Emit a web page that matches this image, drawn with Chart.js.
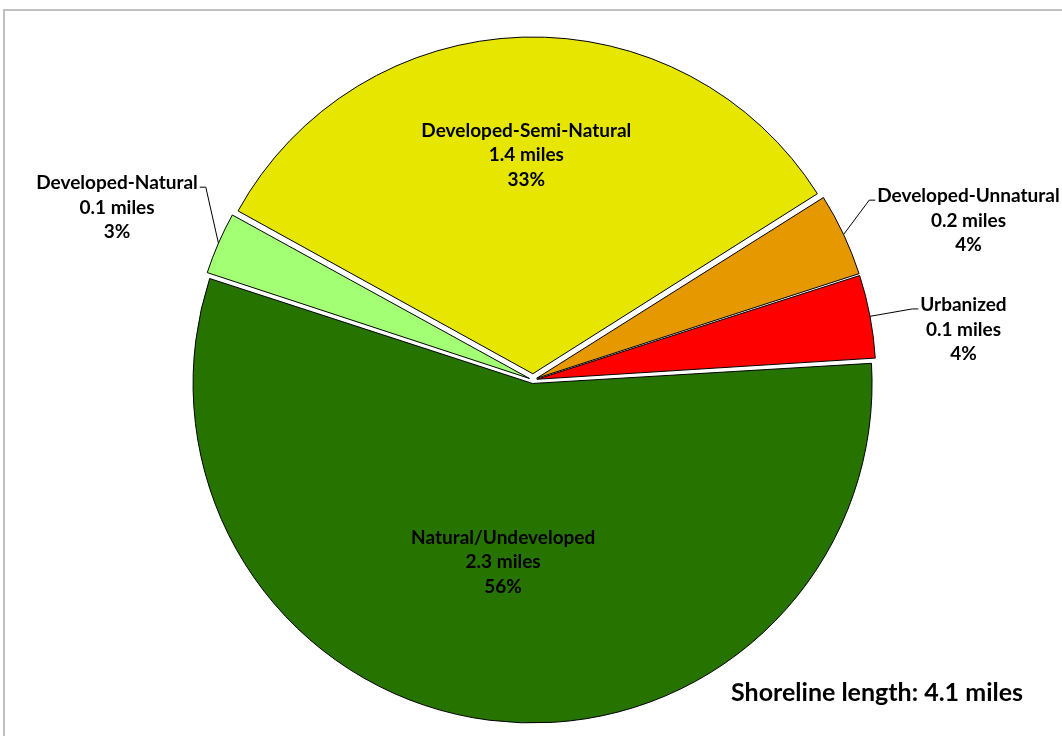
<!DOCTYPE html>
<html>
<head>
<meta charset="utf-8">
<script src="https://cdn.jsdelivr.net/npm/chart.js@4"></script>
<style>
    html, body { margin: 0; padding: 0; background: #ffffff; }
    #wrap { width: 1062px; height: 736px; position: relative; }
</style>
</head>
<body>
<div id="wrap"><canvas id="shorePie" width="1062" height="736"></canvas></div>
<script>
const categories = ["Natural/Undeveloped", "Developed-Natural", "Developed-Semi-Natural", "Developed-Unnatural", "Urbanized"];
const percents = [56, 3, 33, 4, 4];
const miles = [2.3, 0.1, 1.4, 0.2, 0.1];
const sliceColors = ["#267300", "#A3FF73", "#E6E600", "#E69800", "#FF0000"];
const totalMiles = 4.1;

const FONT = "Lato, 'Open Sans', sans-serif";
const EXPLODE = 7; // px each slice is pulled out

// where each label sits, in units of the pie radius along the slice's middle angle
const LABEL_PLACE = [
    { inside: true, r: 0.55, da: 2 },
    { inside: false, r: 1.34, da: -1 },
    { inside: true, r: 0.67, da: 0 },
    { inside: false, r: 1.38, da: 5 },
    { inside: false, r: 1.29, da: 4 },
];

// chart.js moves an arc by offset/4 * (2 - sin(circumference)), so undo that to get an even gap
function arcFactor(pct) {
    const c = (pct / 100) * Math.PI * 2;
    return 2 - Math.sin(Math.min(Math.PI, c));
}
const totalPct = percents.reduce((s, v) => s + v, 0);
const sliceOffsets = percents.map((p) => (4 * EXPLODE) / arcFactor((p / totalPct) * 100));

const framePlugin = {
    id: "frame",
    beforeDraw(chart) {
        const ctx = chart.ctx;
        ctx.save();
        ctx.strokeStyle = "#c0c0c0";
        ctx.lineWidth = 2;
        ctx.strokeRect(4, 10, chart.width + 10, chart.height + 10);
        ctx.restore();
    },
};

const labelPlugin = {
    id: "sliceLabels",
    afterDatasetsDraw(chart) {
        const ctx = chart.ctx;
        const arcs = chart.getDatasetMeta(0).data;
        const lineH = 24.5;
        ctx.save();
        ctx.fillStyle = "#000";
        ctx.font = "bold 19px " + FONT;
        ctx.textAlign = "center";
        ctx.textBaseline = "middle";
        arcs.forEach((arc, i) => {
            const { x, y, startAngle, endAngle, outerRadius } = arc.getProps(["x", "y", "startAngle", "endAngle", "outerRadius"], true);
            const place = LABEL_PLACE[i];
            const mid = (startAngle + endAngle) / 2;
            const cx = x + Math.cos(mid) * EXPLODE;
            const cy = y + Math.sin(mid) * EXPLODE;
            const a = mid + (place.da * Math.PI) / 180;
            const tx = x + Math.cos(a) * outerRadius * place.r;
            const ty = y + Math.sin(a) * outerRadius * place.r;
            const lines = [categories[i], miles[i].toFixed(1) + " miles", percents[i] + "%"];
            lines.forEach((t, k) => {
                ctx.fillText(t, tx, ty + (k - 1) * lineH);
            });
            if (!place.inside) {
                const w = ctx.measureText(lines[0]).width;
                const rightSide = Math.cos(a) > 0;
                const edgeX = rightSide ? tx - w / 2 - 2 : tx + w / 2 + 2;
                const elbowX = rightSide ? edgeX - 6 : edgeX + 6;
                const elbowY = ty - lineH + 4;
                const px = cx + Math.cos(mid) * outerRadius;
                const py = cy + Math.sin(mid) * outerRadius;
                ctx.strokeStyle = "#000";
                ctx.lineWidth = 1;
                ctx.beginPath();
                ctx.moveTo(edgeX, elbowY);
                ctx.lineTo(elbowX, elbowY);
                ctx.lineTo(px, py);
                ctx.stroke();
            }
        });
        ctx.font = "bold 25px " + FONT;
        ctx.textAlign = "left";
        ctx.textBaseline = "alphabetic";
        ctx.fillText("Shoreline length: " + totalMiles.toFixed(1) + " miles", 731, 701);
        ctx.restore();
    },
};

new Chart(document.getElementById("shorePie"), {
    type: "pie",
    data: {
        labels: categories,
        datasets: [
            {
                data: percents,
                backgroundColor: sliceColors,
                borderColor: "#000000",
                borderWidth: 1,
                offset: sliceOffsets,
                hoverOffset: 0,
            },
        ],
    },
    options: {
        responsive: false,
        animation: false,
        rotation: 86.5,
        radius: 336,
        layout: { padding: { left: 4, right: 0, top: 24, bottom: 0 } },
        plugins: {
            legend: { display: false },
            tooltip: { enabled: false },
        },
    },
    plugins: [framePlugin, labelPlugin],
});
</script>
</body>
</html>
